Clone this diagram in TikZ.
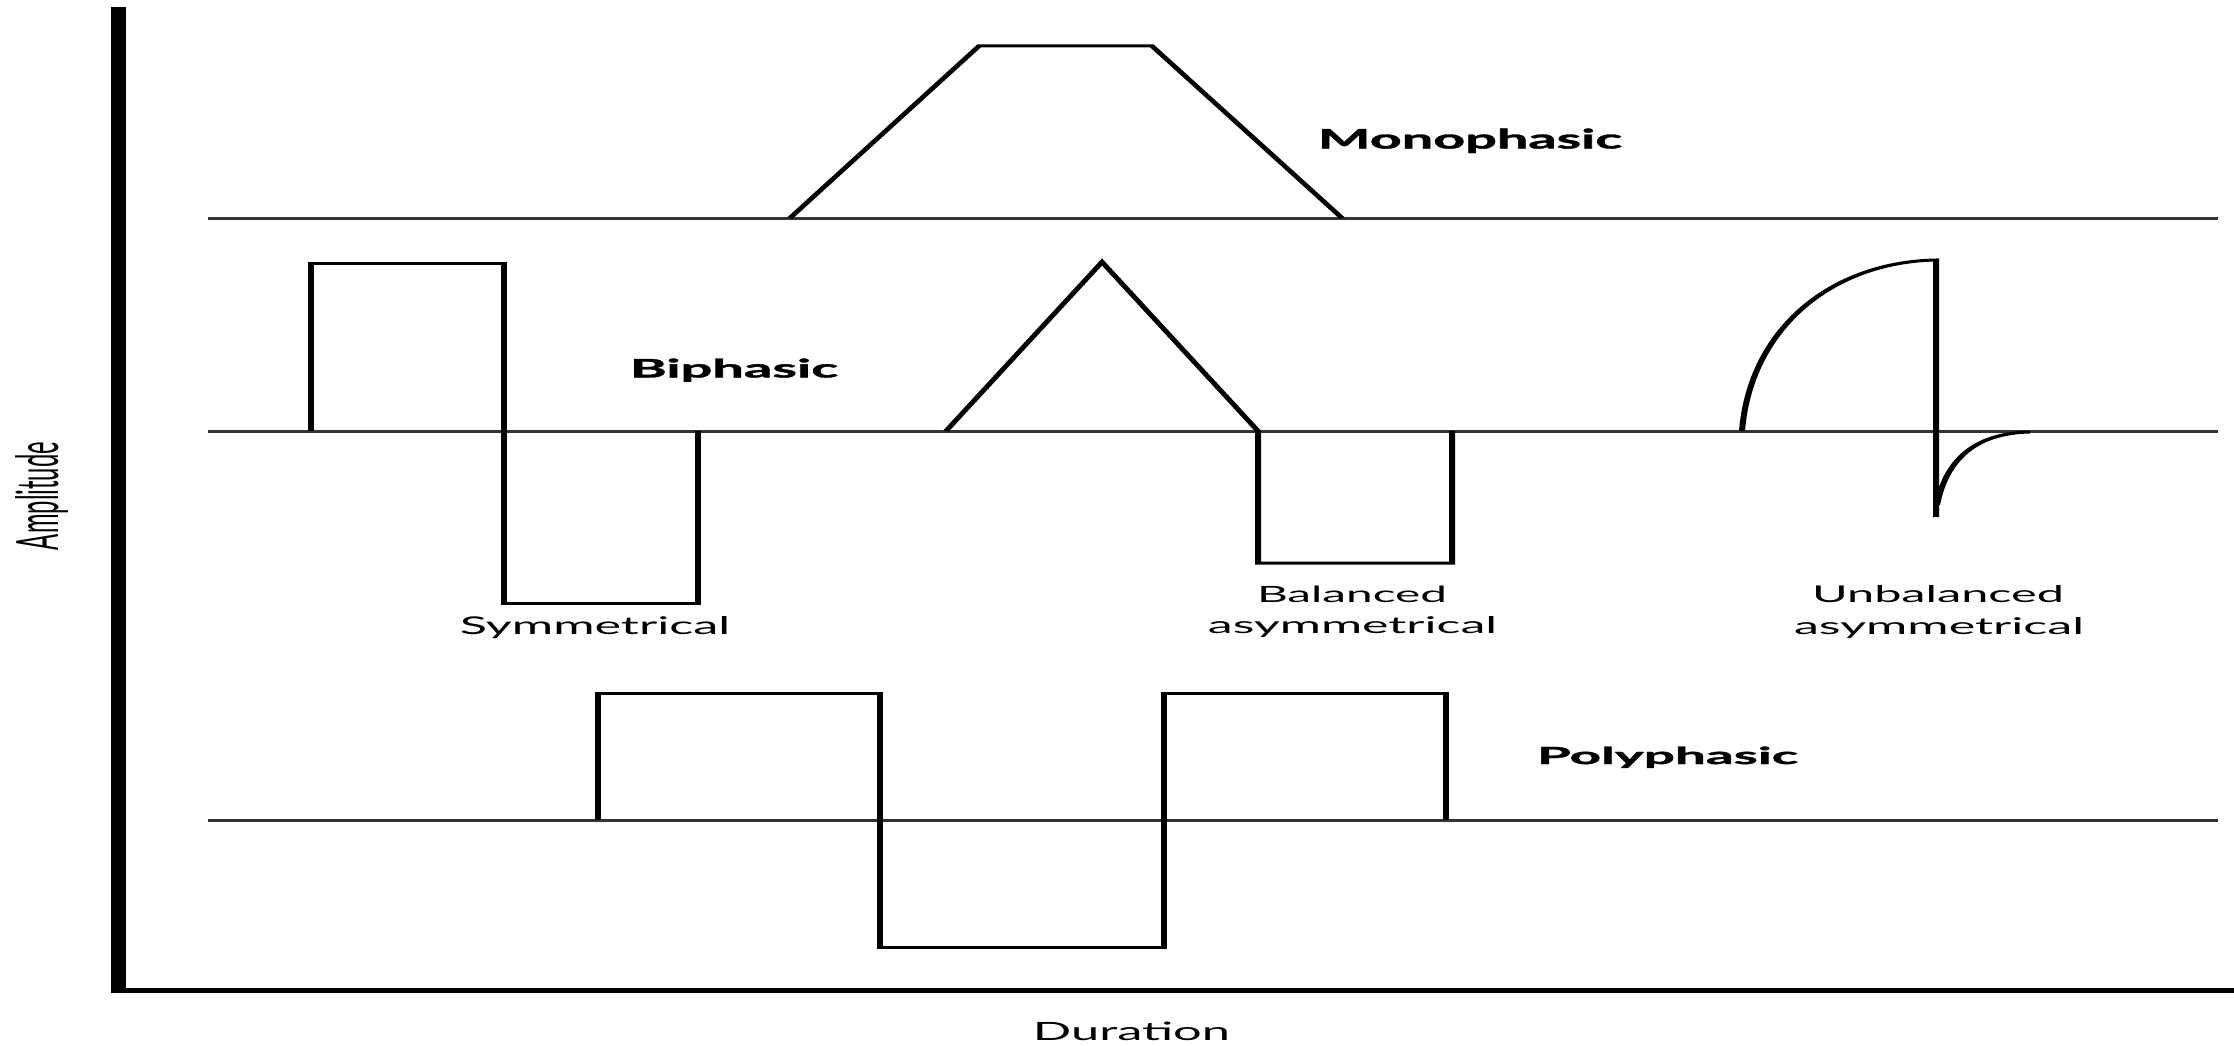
\documentclass[tikz,border=0pt]{standalone}
\usepackage{fontspec}
\setmainfont{Lato}
\newfontfamily\heavyfont{Lato}[FakeBold=1.2]
\usepackage{graphicx}
\newcommand\fitlab[3]{\resizebox{#1pt}{#2pt}{#3}}
\tikzset{
  lab/.style={inner sep=0pt, anchor=base},
  wave/.style={line width=3pt, black, line join=miter},
  zero/.style={line width=3pt, black!80},
  axisfill/.style={fill=black}
}
\begin{document}
\begin{tikzpicture}[x=1pt,y=-1pt]
\useasboundingbox[fill=white] (0,0) rectangle (2234,1046);
\begin{scope}[transform canvas={xscale=2}, x=0.5pt, y=-1pt]
  % axes
  \fill[axisfill] (111,7) rectangle (126,993);
  \fill[axisfill] (111,988) rectangle (2234,993);
  % zero lines
  \coordinate (z1a) at (208,218);  \coordinate (z1b) at (2218,218);
  \coordinate (z2a) at (208,431);  \coordinate (z2b) at (2218,431);
  \coordinate (z3a) at (208,820);  \coordinate (z3b) at (2218,820);
  \draw[zero] (z1a) -- (z1b);
  \draw[zero] (z2a) -- (z2b);
  \draw[zero] (z3a) -- (z3b);
  % monophasic
  \draw[wave] (790,218) -- (979,46) -- (1152,46) -- (1342,218);
  % biphasic symmetrical
  \draw[wave] (311,431) -- (311,263) -- (504,263) -- (504,603) -- (698,603) -- (698,431);
  % balanced asymmetrical
  \draw[wave] (946,431) -- (1102,262) -- (1258,431) -- (1258,563) -- (1452,563) -- (1452,431);
  % unbalanced asymmetrical
  \draw[wave] (1742,431) .. controls (1750,330) and (1830,262) .. (1936,260) -- (1936,517);
  \draw[wave] (1937,505) .. controls (1947,455) and (1980,433) .. (2030,432);
  % polyphasic
  \draw[wave] (598,820) -- (598,693) -- (880,693) -- (880,947) -- (1164,947) -- (1164,693) -- (1446,693) -- (1446,820);
\end{scope}
% labels
\node[lab] (mono) at (1470,148.5) {\fitlab{304}{20}{\heavyfont\bfseries Monophasic}};
\node[lab] (bi) at (734,377.5) {\fitlab{208}{19}{\heavyfont\bfseries Biphasic}};
\node[lab] (sym) at (595,634.5) {\fitlab{270}{18}{Symmetrical}};
\node[lab] (bal1) at (1352,602.5) {\fitlab{190}{16.5}{Balanced}};
\node[lab] (bal2) at (1352.5,633.5) {\fitlab{289}{17}{asymmetrical}};
\node[lab] (unb1) at (1938,602) {\fitlab{252}{17}{Unbalanced}};
\node[lab] (unb2) at (1939,634) {\fitlab{290}{17}{asymmetrical}};
\node[lab] (poly) at (1667.5,764) {\fitlab{261}{17.5}{\heavyfont\bfseries Polyphasic}};
\node[lab] (dur) at (1131.5,1040) {\fitlab{197}{18.5}{Duration}};
\node[lab, rotate=90] (amp) at (58,496) {\fitlab{108}{43}{Amplitude}};
\end{tikzpicture}
\end{document}
